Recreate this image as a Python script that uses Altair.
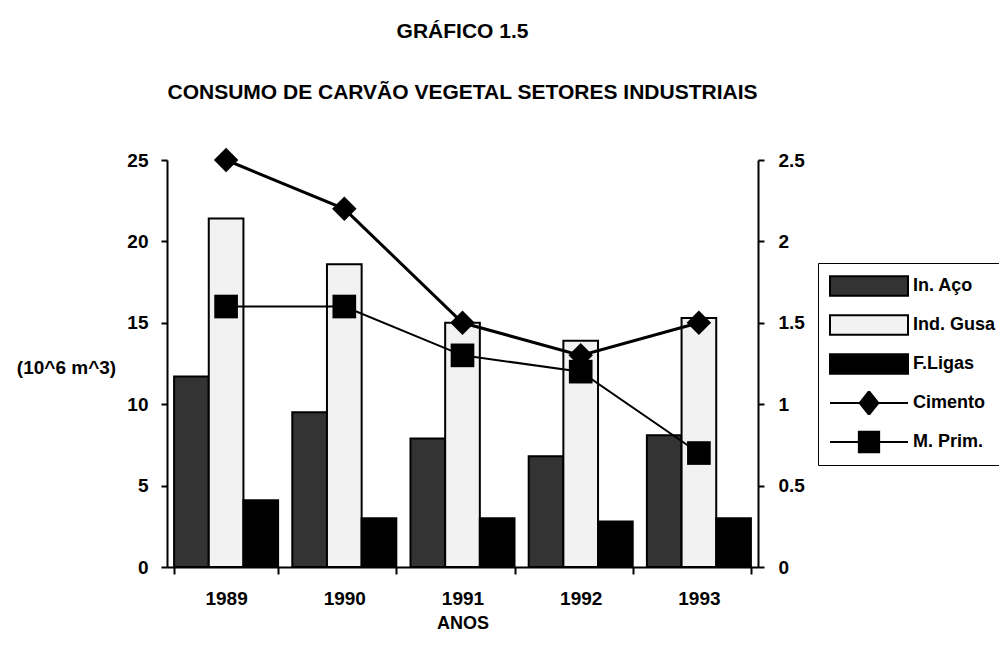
import altair as alt
import pandas as pd

# ---- data ----
anos = ["1989", "1990", "1991", "1992", "1993"]
in_aco = [11.7, 9.5, 7.9, 6.8, 8.1]
ind_gusa = [21.4, 18.6, 15.0, 13.9, 15.3]
f_ligas = [4.1, 3.0, 3.0, 2.8, 3.0]
cimento = [2.5, 2.2, 1.5, 1.3, 1.5]
m_prim = [1.6, 1.6, 1.3, 1.2, 0.7]

bar_series = ["In. Aço", "Ind. Gusa", "F.Ligas"]
line_series = ["Cimento", "M. Prim."]
all_series = bar_series + line_series

left_ticks = [0, 5, 10, 15, 20, 25]
right_ticks = [0, 0.5, 1, 1.5, 2, 2.5]

bars_df = pd.DataFrame(
    [{"ano": a, "serie": s, "valor": v}
     for s, vals in zip(bar_series, [in_aco, ind_gusa, f_ligas])
     for a, v in zip(anos, vals)]
)
lines_df = pd.DataFrame(
    [{"ano": a, "serie": s, "valor": v}
     for s, vals in zip(line_series, [cimento, m_prim])
     for a, v in zip(anos, vals)]
)
legend_df = pd.DataFrame({"serie": all_series})

FONT = "Liberation Sans"

x_scale = alt.Scale(domain=anos, paddingInner=0.12, paddingOuter=0.06)
x_axis = alt.Axis(title="ANOS", labelAngle=0, tickBand="extent", tickSize=7,
                  labelPadding=15, titlePadding=6, titleFontSize=18)
x_enc = alt.X("ano:N", scale=x_scale, sort=anos, axis=x_axis)

RECT = "M-1,-0.25H1V0.25H-1Z"
DIAM_LINE = "M-1,0H1M-0.24,0L0,-0.3L0.24,0L0,0.3Z"
SQ_LINE = "M-1,0H1M-0.26,-0.26H0.26V0.26H-0.26Z"

bars = alt.Chart(bars_df).mark_bar(stroke="black", strokeWidth=2).encode(
    x=x_enc,
    xOffset=alt.XOffset("serie:N", sort=bar_series,
                        scale=alt.Scale(domain=bar_series, paddingInner=0, paddingOuter=0)),
    y=alt.Y("valor:Q", scale=alt.Scale(domain=[0, 25], nice=False),
            axis=alt.Axis(values=left_ticks, title="(10^6 m^3)", tickSize=6, labelPadding=13,
                          titleAngle=0, titleX=-101, titleY=207, titleAlign="center",
                          titleBaseline="middle")),
    fill=alt.Fill("serie:N", scale=alt.Scale(domain=bar_series,
                                             range=["#333333", "#f2f2f2", "#000000"]),
                  legend=None),
)

y_right = alt.Scale(domain=[0, 2.5], nice=False)
y_right_axis = alt.Axis(orient="right", values=right_ticks, format="~g", title=None,
                        tickSize=6, labelPadding=14)

lines = alt.Chart(lines_df).mark_line(color="black").encode(
    x=x_enc,
    y=alt.Y("valor:Q", scale=y_right, axis=y_right_axis),
    detail="serie:N",
    strokeWidth=alt.StrokeWidth("serie:N", scale=alt.Scale(domain=line_series, range=[3, 2]),
                                legend=None),
)

pts_cim = alt.Chart(lines_df).transform_filter(
    alt.datum.serie == "Cimento"
).mark_point(filled=True, color="black", opacity=1, size=600, shape="diamond").encode(
    x=x_enc,
    y=alt.Y("valor:Q", scale=y_right, axis=y_right_axis),
)

pts_mp = alt.Chart(lines_df).transform_filter(
    alt.datum.serie == "M. Prim."
).mark_point(filled=True, color="black", opacity=1, size=560, shape="square").encode(
    x=x_enc,
    y=alt.Y("valor:Q", scale=y_right, axis=y_right_axis),
)

legend_props = dict(
    title=None, orient="none", legendX=651, legendY=103,
    symbolSize=6084, clipHeight=24, rowPadding=15,
    symbolStrokeColor="black", symbolStrokeWidth=2, symbolOpacity=1,
    labelFont=FONT, labelFontSize=18, labelFontWeight="bold", labelColor="black",
    labelOffset=4, padding=11, strokeColor="black", fillColor="white",
)

legend_layer = alt.Chart(legend_df).mark_point(
    filled=False, strokeWidth=2, opacity=0
).encode(
    fill=alt.Fill("serie:N", sort=all_series, scale=alt.Scale(
        domain=all_series, range=["#333333", "#f2f2f2", "#000000", "#000000", "#000000"]
    ), legend=alt.Legend(**legend_props)),
    stroke=alt.Stroke("serie:N", sort=all_series, scale=alt.Scale(
        domain=all_series, range=["#000000"] * 5
    ), legend=alt.Legend(**legend_props)),
    shape=alt.Shape("serie:N", sort=all_series, scale=alt.Scale(
        domain=all_series, range=[RECT, RECT, RECT, DIAM_LINE, SQ_LINE]
    ), legend=alt.Legend(**legend_props)),
)

inner = alt.layer(lines, pts_cim, pts_mp)

chart = alt.layer(bars, inner, legend_layer).resolve_scale(
    y="independent", fill="independent", shape="independent", stroke="independent"
).properties(
    width=591,
    height=407,
    padding={"left": 159, "top": 152, "right": 241, "bottom": 65},
    autosize=alt.AutoSizeParams(type="none"),
    title=alt.TitleParams(
        text="GRÁFICO 1.5",
        subtitle="CONSUMO DE CARVÃO VEGETAL SETORES INDUSTRIAIS",
        font=FONT, fontSize=21, fontWeight="bold", color="black",
        subtitleFont=FONT, subtitleFontSize=21, subtitleFontWeight="bold",
        subtitleColor="black", subtitlePadding=40,
        anchor="middle", frame="group", offset=45,
    ),
).configure_axis(
    labelFont=FONT, labelFontSize=19, labelFontWeight="bold", labelColor="black",
    titleFont=FONT, titleFontSize=19, titleFontWeight="bold", titleColor="black",
    domainColor="black", domainWidth=2, tickColor="black", tickWidth=2, grid=False,
).configure_view(stroke=None)

chart.save("out.html", embed_options={"renderer": "svg", "actions": False})
